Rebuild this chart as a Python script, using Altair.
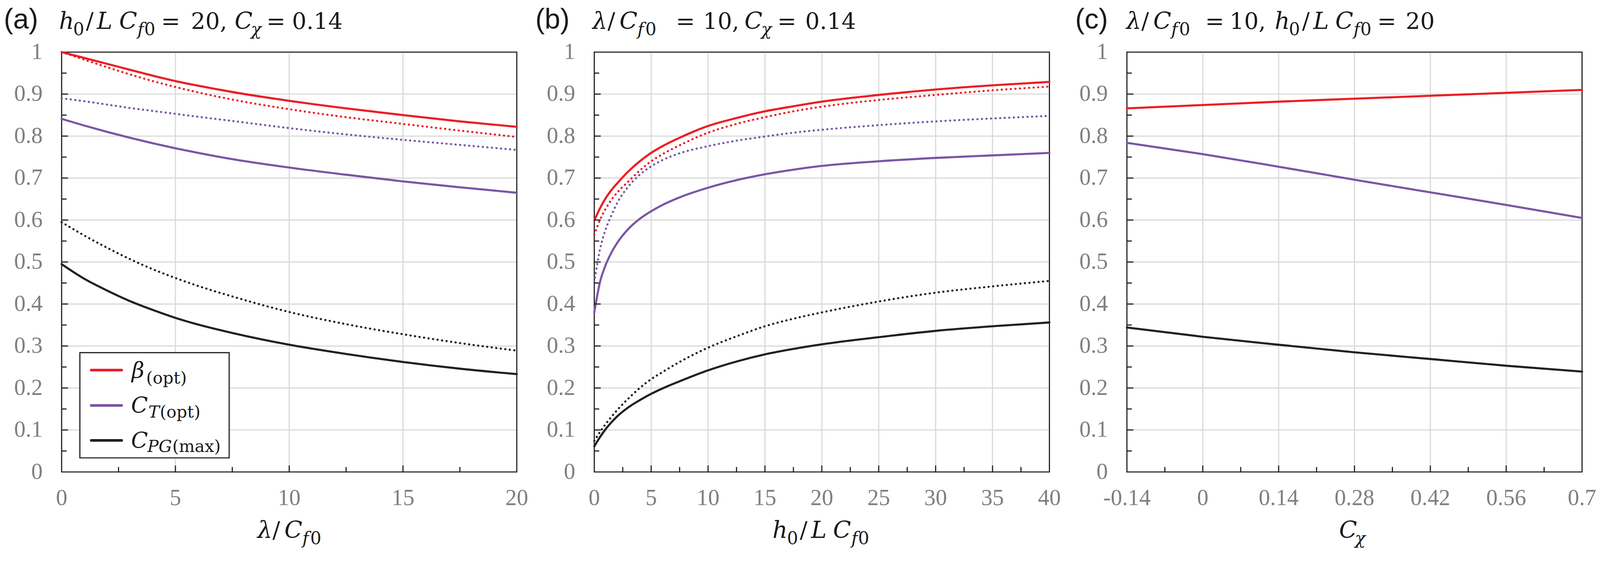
import altair as alt
import pandas as pd

# ---------------- data ----------------
SERIES = ["beta", "ct", "cpg"]
COLORS = ["#ed1c24", "#7a55a6", "#231f20"]

# (a) h0/LCf0 = 20, Cchi = 0.14  vs lambda/Cf0
a_x = [0, 1, 2, 3, 4, 5, 6, 7.5, 10, 12.5, 15, 17.5, 20]
a_beta     = [1.000, 0.986, 0.972, 0.958, 0.944, 0.931, 0.920, 0.905, 0.884, 0.866, 0.850, 0.835, 0.822]
a_beta_dot = [1.000, 0.982, 0.964, 0.947, 0.931, 0.917, 0.904, 0.887, 0.864, 0.845, 0.829, 0.813, 0.798]
a_ct       = [0.841, 0.825, 0.810, 0.796, 0.783, 0.771, 0.760, 0.745, 0.725, 0.708, 0.692, 0.678, 0.665]
a_ct_dot   = [0.890, 0.883, 0.875, 0.867, 0.860, 0.853, 0.846, 0.836, 0.819, 0.804, 0.791, 0.779, 0.767]
a_cpg      = [0.495, 0.460, 0.432, 0.407, 0.386, 0.367, 0.351, 0.331, 0.303, 0.281, 0.262, 0.246, 0.233]
a_cpg_dot  = [0.595, 0.563, 0.534, 0.507, 0.483, 0.462, 0.443, 0.418, 0.381, 0.352, 0.328, 0.307, 0.289]

# (b) lambda/Cf0 = 10, Cchi = 0.14  vs h0/LCf0
b_x = [0, 0.5, 1, 1.5, 2, 3, 4, 5, 6, 7.5, 10, 12.5, 15, 17.5, 20, 25, 30, 35, 40]
b_beta     = [0.599, 0.628, 0.652, 0.671, 0.687, 0.716, 0.740, 0.760, 0.776, 0.796, 0.824,
              0.843, 0.859, 0.871, 0.882, 0.898, 0.911, 0.921, 0.929]
b_beta_dot = [0.565, 0.600, 0.627, 0.648, 0.665, 0.692, 0.718, 0.740, 0.757, 0.778, 0.808,
              0.829, 0.845, 0.859, 0.870, 0.886, 0.898, 0.909, 0.918]
b_ct       = [0.380, 0.452, 0.493, 0.522, 0.545, 0.579, 0.603, 0.621, 0.636, 0.654, 0.677,
              0.695, 0.709, 0.720, 0.729, 0.740, 0.748, 0.754, 0.760]
b_ct_dot   = [0.452, 0.530, 0.578, 0.611, 0.640, 0.680, 0.708, 0.728, 0.743, 0.759, 0.776,
              0.789, 0.799, 0.808, 0.815, 0.826, 0.835, 0.842, 0.848]
b_cpg      = [0.061, 0.083, 0.102, 0.118, 0.132, 0.154, 0.171, 0.186, 0.199, 0.216, 0.242,
              0.263, 0.280, 0.293, 0.304, 0.321, 0.336, 0.347, 0.356]
b_cpg_dot  = [0.074, 0.095, 0.114, 0.131, 0.147, 0.175, 0.200, 0.221, 0.238, 0.262, 0.296,
              0.323, 0.347, 0.365, 0.380, 0.406, 0.427, 0.442, 0.455]

# (c) lambda/Cf0 = 10, h0/LCf0 = 20  vs Cchi
c_x = [-0.14, 0, 0.14, 0.28, 0.42, 0.56, 0.7]
c_beta = [0.866, 0.874, 0.882, 0.889, 0.896, 0.903, 0.910]
c_ct   = [0.784, 0.757, 0.727, 0.696, 0.666, 0.636, 0.605]
c_cpg  = [0.344, 0.322, 0.303, 0.285, 0.269, 0.253, 0.239]

# axis tick values / tick labels
y_labels = [0, 0.1, 0.2, 0.3, 0.4, 0.5, 0.6, 0.7, 0.8, 0.9, 1]
y_label_text = ["0", "0.1", "0.2", "0.3", "0.4", "0.5", "0.6", "0.7", "0.8", "0.9", "1"]
y_grid = [0.1, 0.2, 0.3, 0.4, 0.5, 0.6, 0.7, 0.8, 0.9]
y_minor = [0.05, 0.15, 0.25, 0.35, 0.45, 0.55, 0.65, 0.75, 0.85, 0.95]

a_labels = [0, 5, 10, 15, 20]
a_label_text = ["0", "5", "10", "15", "20"]
a_major = [5, 10, 15]
a_minor = [2.5, 7.5, 12.5, 17.5]

b_labels = [0, 5, 10, 15, 20, 25, 30, 35, 40]
b_label_text = ["0", "5", "10", "15", "20", "25", "30", "35", "40"]
b_major = [5, 10, 15, 20, 25, 30, 35]
b_minor = [2.5, 7.5, 12.5, 17.5, 22.5, 27.5, 32.5, 37.5]

c_labels = [-0.14, 0, 0.14, 0.28, 0.42, 0.56, 0.7]
c_label_text = ["-0.14", "0", "0.14", "0.28", "0.42", "0.56", "0.7"]
c_major = [0, 0.14, 0.28, 0.42, 0.56]
c_minor = [-0.07, 0.07, 0.21, 0.35, 0.49, 0.63]

# ---------------- styling ----------------
W, H = 1198, 1105
BLACK = "#231f20"
GRID = "#d9d9d9"
LABEL = "#7f7f7f"
TXT = "#1a1a1a"
NUMFONT = "Liberation Serif"
MATH = "DejaVu Serif"

KINDS = {
    "lab": ("Liberation Sans", 74, "normal"),
    "mi": (MATH, 62, "italic"),
    "mu": (MATH, 60, "normal"),
    "si": (MATH, 46, "italic"),
    "su": (MATH, 46, "normal"),
    "li": (MATH, 58, "italic"),
    "lsi": (MATH, 44, "italic"),
    "lsu": (MATH, 44, "normal"),
}


def build(xs, groups):
    rows = []
    for series, style, vals in groups:
        for x, y in zip(xs, vals):
            rows.append({"x": x, "y": y, "series": series, "style": style})
    return pd.DataFrame(rows)


def T(s, x, y, kind):
    font, size, style = KINDS[kind]
    return alt.Chart(alt.Data(values=[{}])).mark_text(
        text=s, font=font, fontSize=size, fontStyle=style,
        align="center", baseline="alphabetic", color=TXT
    ).encode(x=alt.value(x), y=alt.value(y))


TM, TS = -61, -45          # title baselines (main / subscript)
XM, XS = 1279, 1295        # x-axis title baselines


def panel(df, xdom, xlabels, xlabel_text, major, minor, texts, extra=()):
    xs = alt.Scale(domain=xdom, nice=False, zero=False)
    ys = alt.Scale(domain=[0, 1], nice=False, zero=False)
    color = alt.Color("series:N", scale=alt.Scale(domain=SERIES, range=COLORS), legend=None)

    def X(f):
        return alt.X(f, scale=xs, axis=None)

    def Y(f):
        return alt.Y(f, scale=ys, axis=None)

    layers = []
    # grid
    layers.append(alt.Chart(pd.DataFrame({"v": major})).mark_rule(color=GRID, strokeWidth=3).encode(
        x=X("v:Q"), y=alt.value(2), y2=alt.value(H - 2)))
    layers.append(alt.Chart(pd.DataFrame({"v": y_grid})).mark_rule(color=GRID, strokeWidth=3).encode(
        y=Y("v:Q"), x=alt.value(2), x2=alt.value(W - 2)))
    # curves
    if (df["style"] == "dotted").any():
        layers.append(alt.Chart(df[df["style"] == "dotted"]).mark_line(
            strokeWidth=5.5, strokeDash=[0.5, 11.5], strokeCap="round",
            interpolate="monotone").encode(x=X("x:Q"), y=Y("y:Q"), color=color))
    layers.append(alt.Chart(df[df["style"] == "solid"]).mark_line(
        strokeWidth=5.5, strokeCap="round", interpolate="monotone").encode(
        x=X("x:Q"), y=Y("y:Q"), color=color))

    # inward ticks
    def xt(vals, ln):
        return alt.Chart(pd.DataFrame({"v": vals})).mark_rule(color=BLACK, strokeWidth=3).encode(
            x=X("v:Q"), y=alt.value(H), y2=alt.value(H - ln))

    def yt(vals, ln):
        return alt.Chart(pd.DataFrame({"v": vals})).mark_rule(color=BLACK, strokeWidth=3).encode(
            y=Y("v:Q"), x=alt.value(0), x2=alt.value(ln))

    layers += [xt(major, 17), xt(minor, 13), yt(y_grid, 17), yt(y_minor, 13)]

    # tick labels
    layers.append(alt.Chart(pd.DataFrame({"v": xlabels, "t": xlabel_text})).mark_text(
        font=NUMFONT, fontSize=60, color=LABEL, align="center", baseline="alphabetic").encode(
        x=X("v:Q"), y=alt.value(H + 87), text="t:N"))
    layers.append(alt.Chart(pd.DataFrame({"v": y_labels, "t": y_label_text})).mark_text(
        font=NUMFONT, fontSize=60, color=LABEL, align="right", baseline="middle").encode(
        y=Y("v:Q"), x=alt.value(-50), text="t:N"))

    layers += list(extra)
    layers += texts
    return alt.layer(*layers).properties(width=W, height=H)


# ---------------- panel (a) ----------------
df_a = build(a_x, [("beta", "solid", a_beta), ("beta", "dotted", a_beta_dot),
                   ("ct", "solid", a_ct), ("ct", "dotted", a_ct_dot),
                   ("cpg", "solid", a_cpg), ("cpg", "dotted", a_cpg_dot)])

texts_a = [
    T("(a)", -107, -62, "lab"),
    T("h", 13, TM, "mi"), T("0", 45, TS, "su"), T("/", 74, TM, "mu"),
    T("L", 113, TM, "mi"), T("C", 175, TM, "mi"), T("f", 208, TS, "si"), T("0", 232, TS, "su"),
    T("=", 287, TM, "mu"), T("20,", 388, TM, "mu"),
    T("C", 479, TM, "mi"), T("χ", 512, TS, "si"), T("=", 564, TM, "mu"), T("0.14", 673, TM, "mu"),
    # x title  lambda/Cf0
    T("λ", 535, XM, "mi"), T("/", 565, XM, "mu"), T("C", 610, XM, "mi"),
    T("f", 642, XS, "si"), T("0", 669, XS, "su"),
]

legend_a = [
    alt.Chart(alt.Data(values=[{}])).mark_rect(fill="white", stroke=BLACK, strokeWidth=3).encode(
        x=alt.value(48), x2=alt.value(441), y=alt.value(791), y2=alt.value(1068)),
]
for (col, yy) in zip(COLORS, [837, 930, 1022]):
    legend_a.append(alt.Chart(alt.Data(values=[{}])).mark_rule(
        color=col, strokeWidth=7, strokeCap="round").encode(
        x=alt.value(78), x2=alt.value(158), y=alt.value(yy)))
legend_a += [
    T("β", 201, 857, "li"), T("(opt)", 276, 872, "lsu"),
    T("C", 205, 949, "li"), T("T", 243, 962, "lsi"), T("(opt)", 312, 962, "lsu"),
    T("C", 205, 1041, "li"), T("PG", 258, 1052, "lsi"), T("(max)", 355, 1052, "lsu"),
]

pa = panel(df_a, [0, 20], a_labels, a_label_text, a_major, a_minor, texts_a, legend_a)

# ---------------- panel (b) ----------------
df_b = build(b_x, [("beta", "solid", b_beta), ("beta", "dotted", b_beta_dot),
                   ("ct", "solid", b_ct), ("ct", "dotted", b_ct_dot),
                   ("cpg", "solid", b_cpg), ("cpg", "dotted", b_cpg_dot)])

texts_b = [
    T("(b)", -110, -62, "lab"),
    T("λ", 15, TM, "mi"), T("/", 45, TM, "mu"), T("C", 90, TM, "mi"),
    T("f", 122, TS, "si"), T("0", 149, TS, "su"),
    T("=", 240, TM, "mu"), T("10,", 334, TM, "mu"),
    T("C", 419, TM, "mi"), T("χ", 453, TS, "si"), T("=", 507, TM, "mu"), T("0.14", 622, TM, "mu"),
    # x title h0/LCf0
    T("h", 489, XM, "mi"), T("0", 522, XS, "su"), T("/", 551, XM, "mu"),
    T("L", 591, XM, "mi"), T("C", 652, XM, "mi"), T("f", 685, XS, "si"), T("0", 709, XS, "su"),
]

pb = panel(df_b, [0, 40], b_labels, b_label_text, b_major, b_minor, texts_b)

# ---------------- panel (c) ----------------
df_c = build(c_x, [("beta", "solid", c_beta), ("ct", "solid", c_ct), ("cpg", "solid", c_cpg)])

texts_c = [
    T("(c)", -93, -62, "lab"),
    T("λ", 18, TM, "mi"), T("/", 48, TM, "mu"), T("C", 93, TM, "mi"),
    T("f", 125, TS, "si"), T("0", 152, TS, "su"),
    T("=", 231, TM, "mu"), T("10,", 318, TM, "mu"),
    T("h", 409, TM, "mi"), T("0", 441, TS, "su"), T("/", 471, TM, "mu"),
    T("L", 511, TM, "mi"), T("C", 572, TM, "mi"), T("f", 605, TS, "si"), T("0", 629, TS, "su"),
    T("=", 684, TM, "mu"), T("20", 772, TM, "mu"),
    # x title C_chi
    T("C", 582, XM, "mi"), T("χ", 614, XS, "si"),
]

pc = panel(df_c, [-0.14, 0.7], c_labels, c_label_text, c_major, c_minor, texts_c)

chart = alt.hconcat(
    pa, pb, pc, spacing=204, bounds="flush",
    padding={"top": -14, "left": 0, "right": 0, "bottom": 0},
).configure_view(stroke=BLACK, strokeWidth=3)

chart.save("out.html", embed_options={"renderer": "svg", "actions": False})
